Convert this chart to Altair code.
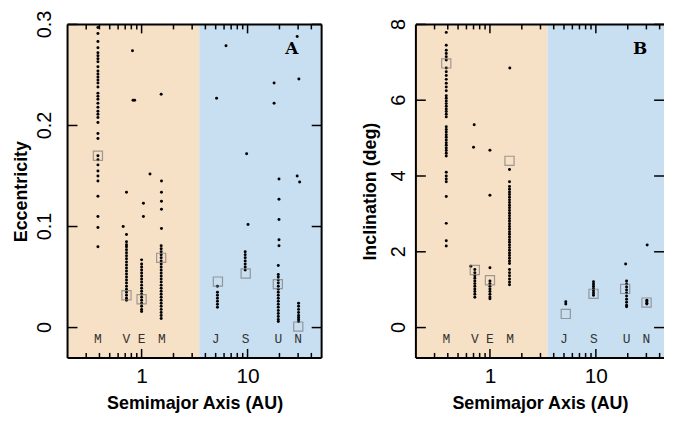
import altair as alt
import pandas as pd

ORANGE = "#F6E0C6"
BLUE = "#C8DEF1"
SERIF = "DejaVu Serif"
MONO = "Liberation Mono"

# planet labels and columns
planet_labels = ["M", "V", "E", "M", "J", "S", "U", "N"]
planet_label_a = [0.387, 0.72, 1.0, 1.55, 5.0, 9.6, 19.5, 30.0]
col_a = [0.387, 0.72, 1.0, 1.53, 5.2, 9.5, 19.5, 30.3]
minor_ticks = [0.3, 0.4, 0.5, 0.6, 0.7, 0.8, 0.9, 2, 3, 4, 5, 6, 7, 8, 9, 20, 30, 40]
major_ticks = [1, 10]

# ---------------- Panel A : eccentricity ----------------
ecc_ticks = [0, 0.1, 0.2, 0.3]
ecc_tick_labels = ["0", "0.1", "0.2", "0.3"]
ecc_mercury = [0.297, 0.291, 0.283, 0.277, 0.272, 0.269, 0.266, 0.263, 0.258, 0.254, 0.251, 0.248,
               0.245, 0.242, 0.238, 0.232, 0.229, 0.226, 0.222, 0.218, 0.214, 0.211, 0.208, 0.203,
               0.192, 0.187, 0.170, 0.166, 0.161, 0.155, 0.150, 0.145, 0.130, 0.110, 0.099, 0.080]
ecc_venus = [0.092, 0.085, 0.082, 0.080, 0.077, 0.074, 0.071, 0.068, 0.065, 0.062, 0.059, 0.056,
             0.053, 0.050, 0.047, 0.044, 0.041, 0.038, 0.035, 0.032, 0.029, 0.027]
ecc_earth = [0.067, 0.063, 0.060, 0.057, 0.054, 0.051, 0.048, 0.045, 0.042, 0.039, 0.036, 0.033,
             0.030, 0.027, 0.024, 0.021, 0.018, 0.016]
ecc_mars = [0.081, 0.078, 0.075, 0.072, 0.069, 0.066, 0.063, 0.060, 0.057, 0.054, 0.051, 0.048,
            0.045, 0.042, 0.039, 0.036, 0.033, 0.030, 0.027, 0.024, 0.021, 0.018, 0.015, 0.012, 0.009]
ecc_jupiter = [0.041, 0.035, 0.032, 0.029, 0.026, 0.023, 0.020]
ecc_saturn = [0.075, 0.072, 0.069, 0.066, 0.063, 0.060, 0.057]
ecc_uranus = [0.0525, 0.050, 0.047, 0.044, 0.041, 0.038, 0.035, 0.032, 0.029, 0.026, 0.023, 0.020,
              0.017, 0.014, 0.011, 0.008, 0.006]
ecc_neptune = [0.024, 0.021, 0.018, 0.015, 0.012, 0.010, 0.008, 0.006]
ecc_scatter_a = [0.67, 0.72, 0.82, 0.83, 0.86, 1.04, 1.04, 1.2, 1.54, 1.54, 1.54, 1.54, 1.54, 1.53,
                 6.26, 29.4, 17.8, 30.5, 5.1, 17.8, 9.8, 29.4, 31.0, 10.1,
                 19.5, 19.8, 19.8, 19.8, 19.8, 19.8]
ecc_scatter_e = [0.100, 0.134, 0.274, 0.225, 0.225, 0.123, 0.110, 0.152, 0.098, 0.117, 0.125, 0.134,
                 0.145, 0.231, 0.279, 0.288, 0.242, 0.246, 0.227, 0.222, 0.172, 0.150, 0.144, 0.102,
                 0.0615, 0.081, 0.087, 0.107, 0.127, 0.147]
ecc_square_a = [0.387, 0.72, 1.0, 1.53, 5.25, 9.6, 19.3, 30.1]
ecc_square_e = [0.170, 0.032, 0.028, 0.069, 0.0455, 0.0535, 0.043, 0.001]

# ---------------- Panel B : inclination ----------------
inc_ticks = [0, 2, 4, 6, 8]
inc_tick_labels = ["0", "2", "4", "6", "8"]
inc_mercury = [7.79, 7.45, 7.32, 7.23, 7.15, 7.06, 6.85, 6.75, 6.65, 6.55, 6.45, 6.35, 6.25, 6.12,
               6.05, 5.98, 5.91, 5.84, 5.77, 5.70, 5.63, 5.56, 5.30, 5.23, 5.16, 5.09, 5.02, 4.95,
               4.88, 4.81, 4.74, 4.67, 4.60, 4.53, 4.10, 4.00, 3.92, 3.85, 3.46, 2.75, 2.29, 2.15]
inc_venus = [1.53, 1.45, 1.37, 1.30, 1.23, 1.16, 1.09, 1.02, 0.95, 0.88, 0.80]
inc_earth = [1.23, 1.16, 1.09, 1.02, 0.95, 0.88, 0.81, 0.76]
inc_mars = [4.17, 3.85, 3.72, 3.65, 3.58, 3.51, 3.44, 3.37, 3.30, 3.23, 3.16, 3.09, 3.02, 2.95,
            2.88, 2.81, 2.74, 2.67, 2.60, 2.53, 2.46, 2.39, 2.32, 2.25, 2.18, 2.11, 2.04, 1.97,
            1.90, 1.83, 1.76, 1.69, 1.53, 1.45, 1.37, 1.28, 1.20, 1.13]
inc_jupiter = [0.68, 0.62]
inc_saturn = [1.21, 1.15, 1.09, 1.03, 0.97, 0.91, 0.85]
inc_uranus = [1.23, 1.15, 1.07, 0.99, 0.91, 0.83, 0.75, 0.67, 0.59, 0.55]
inc_neptune = [0.72, 0.68, 0.64, 0.62]
inc_scatter_a = [0.66, 0.71, 0.70, 1.0, 1.0, 1.0, 1.54, 19.1, 30.5]
inc_scatter_i = [1.62, 5.35, 4.76, 1.58, 4.68, 3.49, 6.85, 1.68, 2.18]
inc_square_a = [0.387, 0.72, 1.0, 1.53, 5.2, 9.5, 18.9, 30.1]
inc_square_i = [6.97, 1.52, 1.25, 4.40, 0.36, 0.89, 1.02, 0.66]

H = 336


def build_dots(columns, sx, sy):
    rows = []
    for a, vals in zip(col_a, columns):
        rows += [{"a": a, "v": v} for v in vals]
    rows += [{"a": x, "v": y} for x, y in zip(sx, sy)]
    return pd.DataFrame(rows)


def panel(dots, sq_x, sq_y, y_dom, y_vals, y_labels, y_title, letter, letter_x, letter_y, lab_y,
          W, x_max, lab_pad, right_border):
    xs = alt.Scale(type="log", domain=[0.2, x_max], nice=False)
    ys = alt.Scale(domain=y_dom, nice=False, zero=False)
    sqdf = pd.DataFrame({"a": sq_x, "v": sq_y})
    one = pd.DataFrame({"k": [0]})

    lab_x = alt.Axis(orient="bottom", values=major_ticks, ticks=False, domain=False,
                     labelFontSize=21, labelPadding=8,
                     title="Semimajor Axis (AU)", titleFontSize=18, titlePadding=8)
    title_y = alt.Axis(orient="left", values=y_vals, ticks=False, labels=False, domain=False,
                       minExtent=0, title=y_title, titleFontSize=18, titlePadding=37)
    carrier = alt.Chart(sqdf).mark_point(opacity=0).encode(
        x=alt.X("a:Q", scale=xs, axis=lab_x), y=alt.Y("v:Q", scale=ys, axis=title_y))

    bg = alt.Chart(pd.DataFrame({"x0": [0.2, 3.5], "x1": [3.5, 100.0], "c": [ORANGE, BLUE]})).mark_rect(
        clip=True).encode(
        x=alt.X("x0:Q", scale=xs), x2="x1:Q",
        y=alt.value(0), y2=alt.value(H),
        color=alt.Color("c:N", scale=None))

    pts = alt.Chart(dots).mark_circle(size=9, color="black", opacity=1).encode(
        x=alt.X("a:Q", scale=xs), y=alt.Y("v:Q", scale=ys))
    sq = alt.Chart(sqdf).mark_point(shape="square", filled=False, color="#7a7a7a", size=85,
                                    strokeWidth=1.2).encode(
        x=alt.X("a:Q", scale=xs), y=alt.Y("v:Q", scale=ys))
    labs = alt.Chart(pd.DataFrame({"a": planet_label_a, "v": [lab_y] * 8, "t": planet_labels})).mark_text(
        font=MONO, fontSize=13, color="#333333").encode(
        x=alt.X("a:Q", scale=xs), y=alt.Y("v:Q", scale=ys), text="t:N")
    let = alt.Chart(pd.DataFrame({"a": [letter_x], "v": [letter_y], "t": [letter]})).mark_text(
        font=SERIF, fontSize=17, fontWeight="bold", color="black").encode(
        x=alt.X("a:Q", scale=xs), y=alt.Y("v:Q", scale=ys), text="t:N")

    def xticks(vals, y0, y1):
        return alt.Chart(pd.DataFrame({"t": vals})).mark_rule(color="black", strokeWidth=1.5).encode(
            x=alt.X("t:Q", scale=xs), y=alt.value(y0), y2=alt.value(y1))

    def yticks(x0, x1):
        return alt.Chart(pd.DataFrame({"t": y_vals})).mark_rule(color="black", strokeWidth=1.5).encode(
            y=alt.Y("t:Q", scale=ys), x=alt.value(x0), x2=alt.value(x1))

    def border(x0, x1, y0, y1):
        return alt.Chart(one).mark_rule(color="black", strokeWidth=2).encode(
            x=alt.value(x0), x2=alt.value(x1), y=alt.value(y0), y2=alt.value(y1))

    ticks = [xticks(minor_ticks, H, H - 5), xticks(major_ticks, H, H - 9),
             xticks(minor_ticks, 0, 5), xticks(major_ticks, 0, 9),
             yticks(0, 10), yticks(W, W - 10),
             border(0, W, 0, 0), border(0, W, H, H), border(0, 0, 0, H)]
    if right_border:
        ticks.append(border(W, W, 0, H))

    ylabs = alt.Chart(pd.DataFrame({"t": y_vals, "s": y_labels})).mark_text(
        angle=270, fontSize=20, color="black", baseline="alphabetic").encode(
        y=alt.Y("t:Q", scale=ys), x=alt.value(-lab_pad), text="s:N")

    return alt.layer(carrier, bg, pts, sq, labs, let, *ticks, ylabs).properties(width=W, height=H)


dots_a = build_dots([ecc_mercury, ecc_venus, ecc_earth, ecc_mars, ecc_jupiter, ecc_saturn,
                     ecc_uranus, ecc_neptune], ecc_scatter_a, ecc_scatter_e)
dots_b = build_dots([inc_mercury, inc_venus, inc_earth, inc_mars, inc_jupiter, inc_saturn,
                     inc_uranus, inc_neptune], inc_scatter_a, inc_scatter_i)

pa = panel(dots_a, ecc_square_a, ecc_square_e, [-0.03, 0.3], ecc_ticks, ecc_tick_labels,
           "Eccentricity", "A", 26.1, 0.276, -0.0118, 256, 50.0, 17, True)
pb = panel(dots_b, inc_square_a, inc_square_i, [-0.8, 8], inc_ticks, inc_tick_labels,
           "Inclination (deg)", "B", 26.2, 7.36, -0.31, 250, 44.0, 11, False)

chart = alt.hconcat(pa, pb, spacing=37).properties(
    padding={"left": 4, "top": 0, "right": 0, "bottom": 0}
).configure_view(stroke="transparent").configure_axis(grid=False)

chart.save("out.html", embed_options={"renderer": "svg", "actions": False})
